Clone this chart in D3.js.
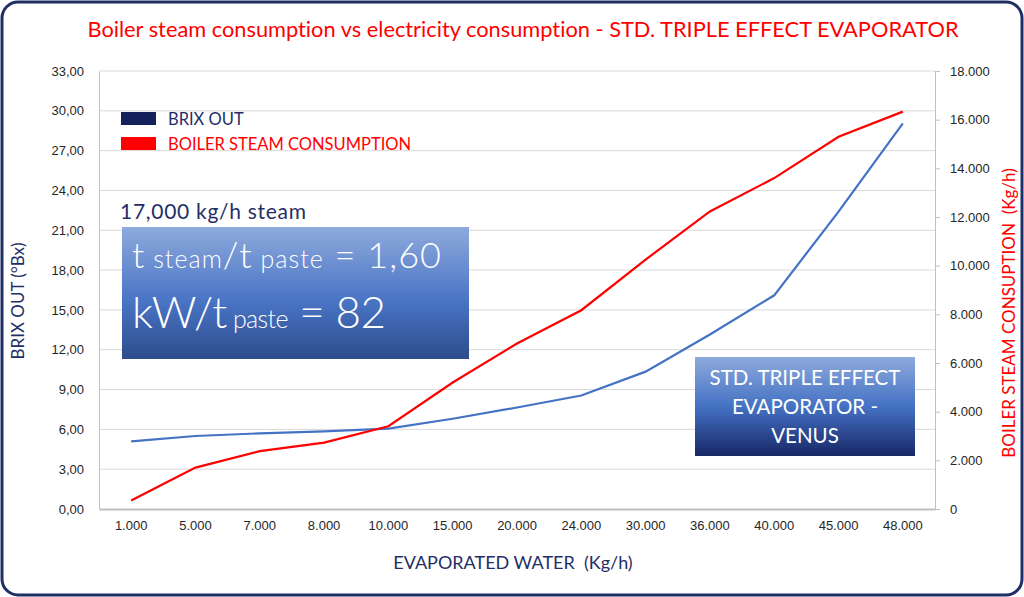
<!DOCTYPE html>
<html>
<head>
<meta charset="utf-8">
<script src="https://cdn.jsdelivr.net/npm/d3@7"></script>
<style>
  body { margin: 0; background: #fff; }
  svg { display: block; font-family: Lato, "Open Sans", sans-serif; font-variant-ligatures: none; }
  .grid line { stroke: #d9d9d9; stroke-width: 1; }
  .axis text { fill: #262626; font-size: 13px; }
  .axis path, .axis line { stroke: #bfbfbf; }
</style>
</head>
<body>
<div id="chart"></div>
<script>
// evaporated water (kg/h) categories
const evaporated = [1000, 5000, 7000, 8000, 10000, 15000, 20000, 24000, 30000, 36000, 40000, 45000, 48000]
// BRIX OUT (°Bx), left axis
const brixOut = [5.1, 5.5, 5.7, 5.85, 6.05, 6.8, 7.65, 8.55, 10.35, 13.15, 16.1, 22.4, 29.05]
// boiler steam consumption (kg/h), right axis
const steam = [350, 1700, 2380, 2730, 3400, 5200, 6800, 8170, 10250, 12230, 13600, 15300, 16330]
const brixTicks = d3.range(0, 34, 3)
const steamTicks = d3.range(0, 18001, 2000)

const W = 1024, H = 597
const margin = {top: 71, right: 89, bottom: 88, left: 99}
const width = W - margin.left - margin.right
const height = H - margin.top - margin.bottom

const loc = d3.formatLocale({decimal: ',', thousands: '.', grouping: [3], currency: ['', '']})
const fmtBrix = loc.format(',.2f')
const fmtInt = loc.format(',.0f')

const svg = d3.select('#chart').append('svg')
	.attr('width', W).attr('height', H)

const defs = svg.append('defs')
function gradient(id, stops) {
	const g = defs.append('linearGradient').attr('id', id)
		.attr('x1', 0).attr('y1', 0).attr('x2', 0).attr('y2', 1)
	stops.forEach(s => g.append('stop').attr('offset', s[0]).attr('stop-color', s[1]))
}
gradient('boxLeft', [[0, '#8eaadc'], [0.55, '#4a75c6'], [1, '#2d4c8c']])
gradient('boxRight', [[0, '#8eaadc'], [0.5, '#4472c4'], [1, '#172766']])

// outer frame
svg.append('rect')
	.attr('x', 2).attr('y', 2).attr('width', W - 4).attr('height', H - 4)
	.attr('rx', 16).attr('fill', '#fff')
	.attr('stroke', '#1f2f66').attr('stroke-width', 3)

svg.append('text')
	.attr('x', 523).attr('y', 37)
	.attr('text-anchor', 'middle')
	.attr('fill', '#ff0000')
	.style('font-size', '21.8px')
	.text('Boiler steam consumption vs electricity consumption - STD. TRIPLE EFFECT EVAPORATOR')

const g = svg.append('g').attr('transform', 'translate(' + [margin.left, margin.top] + ')')

const x = d3.scaleBand().domain(evaporated).range([0, width])
const yL = d3.scaleLinear().domain([0, 33]).range([height, 0])
const yR = d3.scaleLinear().domain([0, 18000]).range([height, 0])

// gridlines follow the left axis
g.append('g').attr('class', 'grid')
	.selectAll('line').data(brixTicks.slice(1)).enter().append('line')
	.attr('x1', 0).attr('x2', width)
	.attr('y1', d => yL(d)).attr('y2', d => yL(d))

g.append('g').attr('class', 'axis')
	.call(d3.axisLeft(yL).tickValues(brixTicks).tickFormat(fmtBrix).tickSize(0).tickPadding(15))
	.call(a => a.select('.domain').attr('stroke', '#d9d9d9'))

g.append('g').attr('class', 'axis')
	.attr('transform', 'translate(' + width + ',0)')
	.call(d3.axisRight(yR).tickValues(steamTicks).tickFormat(fmtInt).tickSizeInner(5).tickSizeOuter(0).tickPadding(10))
	.call(a => a.selectAll('.tick line').attr('stroke', '#bfbfbf'))
	.call(a => a.select('.domain').attr('stroke', '#d9d9d9'))

g.append('g').attr('class', 'axis')
	.attr('transform', 'translate(0,' + height + ')')
	.call(d3.axisBottom(x).tickFormat(fmtInt).tickSize(0).tickPadding(12))
	.call(a => a.select('.domain').attr('stroke', '#d9d9d9').attr('stroke-width', 2))

const lineL = d3.line().x((d, i) => x(evaporated[i]) + x.bandwidth() / 2).y(d => yL(d))
const lineR = d3.line().x((d, i) => x(evaporated[i]) + x.bandwidth() / 2).y(d => yR(d))

g.append('path').datum(brixOut)
	.attr('fill', 'none').attr('stroke', '#4472c4').attr('stroke-width', 2.2)
	.attr('d', lineL)
g.append('path').datum(steam)
	.attr('fill', 'none').attr('stroke', '#ff0000').attr('stroke-width', 2.2)
	.attr('d', lineR)

// axis titles
svg.append('text')
	.attr('transform', 'translate(24,301) rotate(-90)')
	.attr('text-anchor', 'middle').attr('fill', '#1f2f66')
	.style('font-size', '17px')
	.text('BRIX OUT (°Bx)')
svg.append('text')
	.attr('transform', 'translate(1015,313) rotate(-90)')
	.attr('text-anchor', 'middle').attr('fill', '#ff0000')
	.style('font-size', '17px').style('white-space', 'pre')
	.text('BOILER STEAM CONSUPTION  (Kg/h)')
svg.append('text')
	.attr('x', 513).attr('y', 569)
	.attr('text-anchor', 'middle').attr('fill', '#1f2f66')
	.style('font-size', '18px').style('white-space', 'pre')
	.text('EVAPORATED WATER  (Kg/h)')

// legend
const legend = [['BRIX OUT', '#14215a', '#1f2f66'], ['BOILER STEAM CONSUMPTION', '#ff0000', '#ff0000']]
const lg = svg.append('g').selectAll('g').data(legend).enter().append('g')
	.attr('transform', (d, i) => 'translate(121,' + (112 + i * 25) + ')')
lg.append('rect').attr('width', 35).attr('height', 13).attr('fill', d => d[1])
lg.append('text').attr('x', 47).attr('y', 13)
	.attr('fill', d => d[2]).style('font-size', '16.5px')
	.text(d => d[0])

// annotation boxes
svg.append('text')
	.attr('x', 120).attr('y', 219)
	.attr('fill', '#1f2f66').style('font-size', '21px')
	.attr('textLength', 186)
	.text('17,000 kg/h steam')

svg.append('rect')
	.attr('x', 122).attr('y', 227).attr('width', 347).attr('height', 132)
	.attr('fill', 'url(#boxLeft)')

const boxText = svg.append('g').attr('fill', '#fff').style('font-weight', 300)
const l1 = boxText.append('text').attr('x', 132).attr('y', 268).attr('textLength', 309)
l1.append('tspan').style('font-size', '36px').text('t')
l1.append('tspan').style('font-size', '25px').text(' steam')
l1.append('tspan').style('font-size', '36px').text('/t')
l1.append('tspan').style('font-size', '25px').text(' paste')
l1.append('tspan').style('font-size', '36px').text(' = 1,60')
const l2 = boxText.append('text').attr('x', 132).attr('y', 328).attr('textLength', 254)
l2.append('tspan').style('font-size', '44px').text('kW/t')
l2.append('tspan').style('font-size', '25px').text(' paste')
l2.append('tspan').style('font-size', '44px').text(' = 82')

svg.append('rect')
	.attr('x', 695).attr('y', 357).attr('width', 220).attr('height', 99)
	.attr('fill', 'url(#boxRight)')
svg.append('text')
	.attr('text-anchor', 'middle').attr('fill', '#fff')
	.style('font-size', '20.5px')
	.selectAll('tspan').data(['STD. TRIPLE EFFECT', 'EVAPORATOR -', 'VENUS']).enter().append('tspan')
	.attr('x', 805).attr('y', (d, i) => 385 + i * 29)
	.text(d => d)
</script>
</body>
</html>
